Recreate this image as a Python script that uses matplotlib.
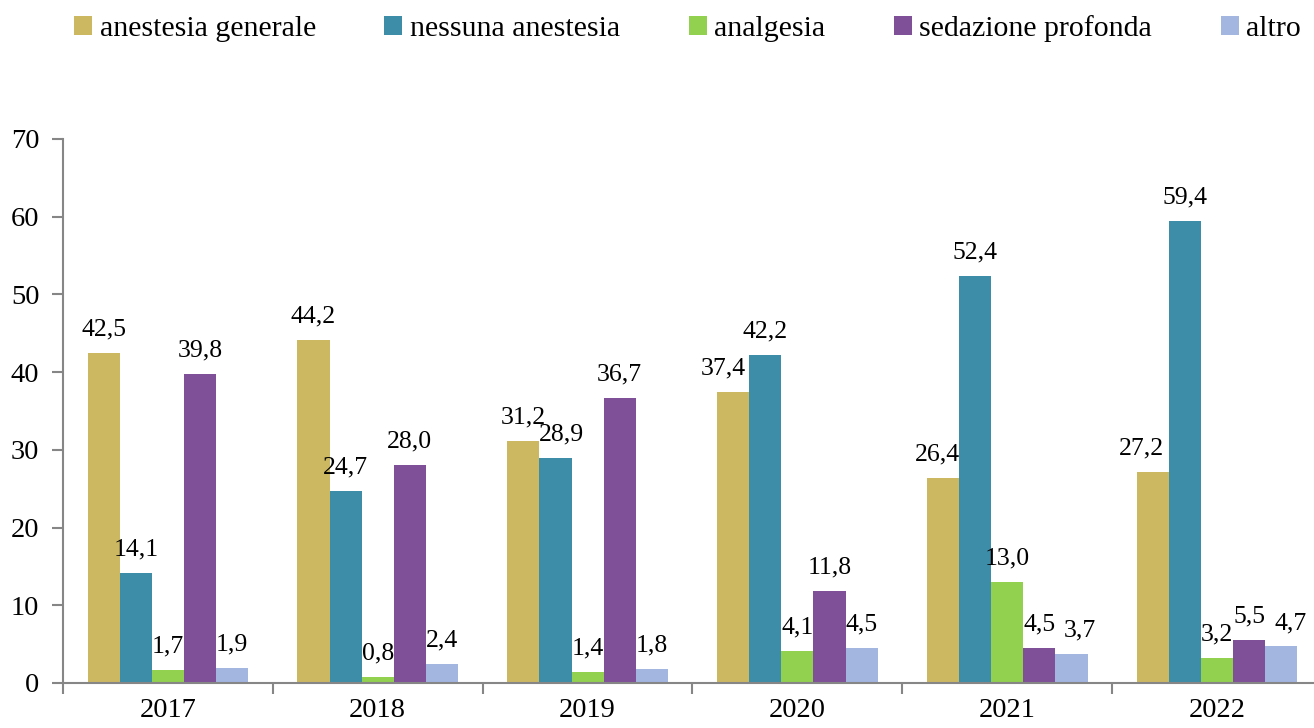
import matplotlib.pyplot as plt
import numpy as np

# Data
years = ["2017", "2018", "2019", "2020", "2021", "2022"]
series_names = ["anestesia generale", "nessuna anestesia", "analgesia",
                "sedazione profonda", "altro"]
anestesia_generale = [42.5, 44.2, 31.2, 37.4, 26.4, 27.2]
nessuna_anestesia = [14.1, 24.7, 28.9, 42.2, 52.4, 59.4]
analgesia = [1.7, 0.8, 1.4, 4.1, 13.0, 3.2]
sedazione_profonda = [39.8, 28.0, 36.7, 11.8, 4.5, 5.5]
altro = [1.9, 2.4, 1.8, 4.5, 3.7, 4.7]

colors = ["#CDB862", "#3D8DA9", "#92D050", "#7F4F98", "#A3B6E0"]

# small horizontal nudges (points) for crowded labels: (series, year) -> dx
label_nudge = {(1, 2): 4, (0, 3): -7, (0, 4): -4, (4, 4): 6, (0, 5): -8, (4, 5): 7}

plt.rcParams['font.family'] = ['Liberation Serif', 'DejaVu Serif']
FS = 20.5
FS_LBL = 18.5

fig = plt.figure(figsize=(13.14, 7.28), dpi=100)
W, H = 1314, 728
x0, x1 = 63, 1322
y0, y1 = 683, 139
ax = fig.add_axes([x0 / W, (H - y0) / H, (x1 - x0) / W, (y0 - y1) / H])

all_series = [anestesia_generale, nessuna_anestesia, analgesia,
              sedazione_profonda, altro]
x = np.arange(len(years))
bw = 0.153
for i, (vals, name, c) in enumerate(zip(all_series, series_names, colors)):
    pos = x + (i - 2) * bw
    ax.bar(pos, vals, width=bw, color=c, label=name, linewidth=0)
    for j, (p, v) in enumerate(zip(pos, vals)):
        dx = label_nudge.get((i, j), 0)
        ax.annotate(f"{v:.1f}".replace(".", ","), (p, v), xytext=(dx, 9),
                    textcoords="offset points", ha="center", va="bottom",
                    fontsize=FS_LBL)

ax.set_xlim(-0.5, 5.5)
ax.set_ylim(0, 70)
ax.set_yticks(range(0, 71, 10))
ax.set_xticks(np.arange(-0.5, 6, 1))
ax.set_xticklabels([])
ax.set_xticks(x, minor=True)
ax.set_xticklabels(years, minor=True)
ax.tick_params(axis='x', which='minor', length=0, labelsize=FS, pad=11)
ax.tick_params(axis='x', which='major', length=8, width=1.5, color="#868686")
ax.tick_params(axis='y', length=8, width=1.5, color="#868686", labelsize=FS, pad=9)

for s in ["top", "right"]:
    ax.spines[s].set_visible(False)
for s in ["left", "bottom"]:
    ax.spines[s].set_color("#868686")
    ax.spines[s].set_linewidth(1.5)

fig.legend(loc="upper left", bbox_to_anchor=(0.036, 1.016), ncol=5, frameon=False,
           fontsize=21.5, handlelength=0.6, handleheight=0.6, handletextpad=0.25,
           columnspacing=2.3)

fig.savefig("out.png", dpi=100)
